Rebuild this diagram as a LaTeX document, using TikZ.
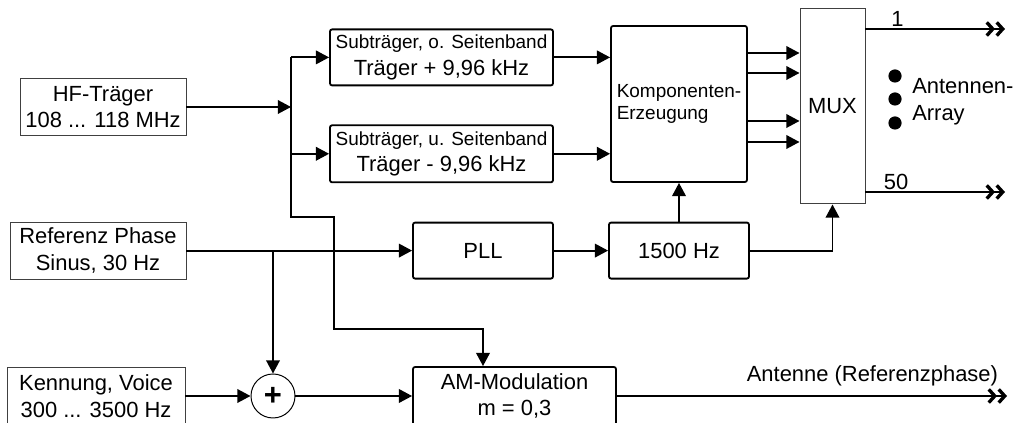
\documentclass[tikz,border=0pt]{standalone}
\usepackage{fontspec}
\setmainfont{Liberation Sans}
\usetikzlibrary{arrows.meta,positioning}
\newcommand{\subsz}{\fontsize{13.5}{16}\selectfont}

\begin{document}
\begin{tikzpicture}[font=\fontsize{15.6}{19}\selectfont,
  arr/.style={-{Triangle[length=3.3mm, width=3.4mm]}, line width=1.3pt},
  outarr/.style={-{Straight Barb[length=1.5mm, width=3.3mm, line width=2.4pt]
    Straight Barb[length=1.5mm, width=3.3mm, line width=2.4pt]}, line width=1.3pt},
  thinbox/.style={draw=black!75, line width=0.7pt, align=center, inner xsep=2pt},
  blk/.style={draw, line width=1.3pt, rounded corners=1.5pt, align=center, inner xsep=2pt}]
\useasboundingbox (0,0) rectangle (25.45,10.575);
% ---- inputs, left column ----
\node[thinbox, minimum width=4.15cm, minimum height=1.425cm] (hf) at (2.575,7.9)
  {HF-Träger\\108 ... 118 MHz};
\node[thinbox, minimum width=4.4cm, minimum height=1.425cm] (ref) at (2.45,4.31)
  {Referenz Phase\\Sinus, 30 Hz};
\node[thinbox, minimum width=4.45cm, minimum height=1.45cm] (ken) at (2.4,0.675)
  {Kennung, Voice\\300 ... 3500 Hz};
% ---- sidebands, PLL, modulation ----
\node[blk, minimum width=5.575cm, minimum height=1.4cm] (sub1) at (11.0375,9.14)
  {{\subsz Subträger, o. Seitenband}\\Träger + 9,96 kHz};
\node[blk, minimum width=5.575cm, minimum height=1.425cm] (sub2) at (11.0375,6.73)
  {{\subsz Subträger, u. Seitenband}\\Träger - 9,96 kHz};
\node[blk, minimum width=3.5cm, minimum height=1.4cm] (pll) at (12.075,4.31) {PLL};
\node[blk, minimum width=3.5cm, minimum height=1.4cm] (f1500) at (16.975,4.31) {1500 Hz};
\node[blk, minimum width=5.075cm, minimum height=1.45cm] (am) at (12.8625,0.675)
  {AM-Modulation\\m = 0,3};
\node[circle, draw, line width=0.7pt, minimum size=1.1cm, inner sep=0pt,
  font=\fontsize{22}{22}\selectfont\bfseries] (plus) at (6.825,0.675) {+};
% ---- components and multiplexer ----
\node[blk, minimum width=3.4cm, minimum height=3.9cm, align=left,
  font=\subsz] (komp) at (16.975,7.975) {Komponenten-\\Erzeugung};
\node[thinbox, minimum width=1.625cm, minimum height=4.875cm] (mux) at (20.8125,7.9125) {MUX};
\foreach \yy in {8.675,8.1,7.5} \fill (22.375,\yy) circle (0.165);
\node[anchor=west, align=left, inner sep=0pt] (ant) at (22.8,8.04) {Antennen-\\Array};
% bus and free ends
\coordinate (bus) at (7.275,7.9);
\coordinate (j1) at (8.35,5.15);
\coordinate (j2) at (8.35,2.35);
\coordinate (o1) at (25.125,9.85);
\coordinate (o50) at (25.125,5.775);
\coordinate (oa) at (25.175,0.675);
% ---- connectors ----
\draw[arr] (hf.east) -- (bus);
\draw[arr] (bus |- sub1.west) |- (j1) -- (j2) -| (am.north -| pll.south);
\draw[arr] (bus |- sub1.west) -- (sub1.west);
\draw[arr] (bus |- sub2.west) -- (sub2.west);
\draw[arr] (sub1.east) -- (sub1.east -| komp.west);
\draw[arr] (sub2.east) -- (sub2.east -| komp.west);
\foreach \yy in {9.25,8.75,7.55,7.025}
  \draw[arr] (komp.east |- 0,\yy) -- (mux.west |- 0,\yy);
\draw[arr] (ref.east) -- (pll.west);
\draw[arr] (plus.north |- ref.east) -- (plus.north);
\draw[arr] (ken.east) -- (plus.west);
\draw[arr] (plus.east) -- (am.west);
\draw[arr] (pll.east) -- (f1500.west);
\draw[arr] (f1500.north) -- (komp.south);
\draw[arr] (f1500.east) -| (mux.south);
\draw[outarr] (mux.east |- o1) -- node[above, pos=0.23, inner sep=1pt] {1} (o1);
\draw[outarr] (mux.east |- o50) -- node[above, pos=0.22, inner sep=1pt] {50} (o50);
\draw[outarr] (am.east) -- node[above, pos=0.655, yshift=1mm] {Antenne (Referenzphase)} (oa);
\end{tikzpicture}
\end{document}
